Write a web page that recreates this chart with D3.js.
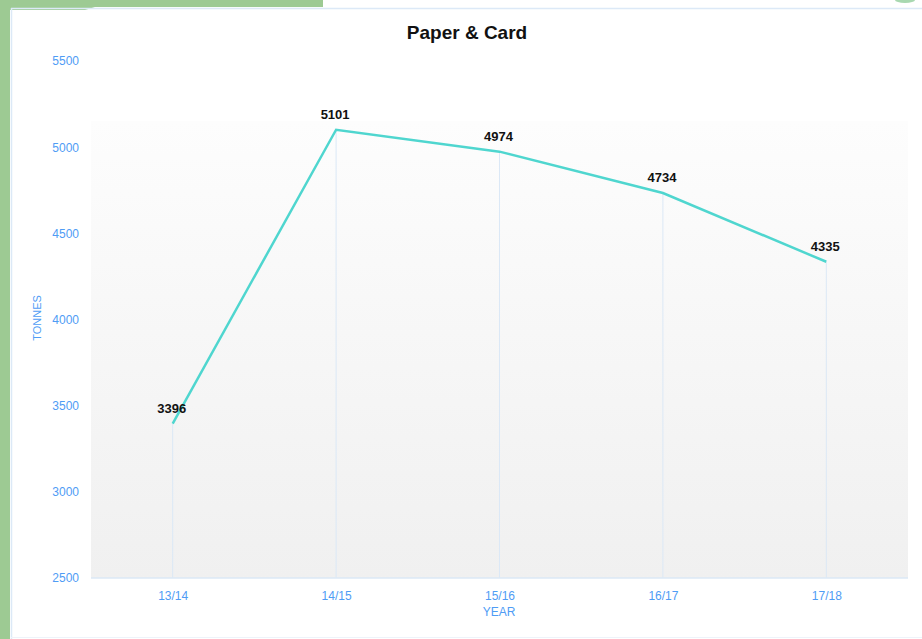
<!DOCTYPE html>
<html>
<head>
<meta charset="utf-8">
<script src="https://cdn.jsdelivr.net/npm/d3@7"></script>
<style>
  html, body { margin: 0; padding: 0; background: #fff; }
  svg { display: block; font-family: "Liberation Sans", Arial, Helvetica, sans-serif; }
</style>
</head>
<body>
<svg id="chart" width="922" height="639"></svg>
<script>
// data
const years = ["13/14", "14/15", "15/16", "16/17", "17/18"];
const tonnes = [3396, 5101, 4974, 4734, 4335];
const yTicks = [2500, 3000, 3500, 4000, 4500, 5000, 5500];

const svg = d3.select("#chart");
const W = 922, H = 639;

// page frame bits (green sidebar, top strip)
svg.append("rect").attr("x", 0).attr("y", 0).attr("width", W).attr("height", H).attr("fill", "#fff");
svg.append("rect").attr("x", 0).attr("y", 0).attr("width", 10).attr("height", H).attr("fill", "#9dca93");
svg.append("path").attr("d", "M0,0 H323 V7 H95 L85,10 H0 Z").attr("fill", "#9dca93");
svg.append("line").attr("x1", 11).attr("x2", W).attr("y1", 8.5).attr("y2", 8.5)
    .attr("stroke", "#dce9f7").attr("stroke-width", 1.5);
svg.append("line").attr("x1", 11.5).attr("x2", 11.5).attr("y1", 8).attr("y2", H)
    .attr("stroke", "#dce9f7").attr("stroke-width", 1.5);
svg.append("line").attr("x1", 11).attr("x2", W).attr("y1", 637.5).attr("y2", 637.5)
    .attr("stroke", "#eef3fa").attr("stroke-width", 1);
svg.append("ellipse").attr("cx", 905).attr("cy", 0).attr("rx", 10).attr("ry", 3).attr("fill", "#a8d8b0");

const margin = { top: 61, right: 14, bottom: 61, left: 91 };
const plotRight = 908;

const x = d3.scalePoint()
    .domain(years)
    .range([margin.left, plotRight])
    .padding(0.5);

const y = d3.scaleLinear()
    .domain([2500, 5500])
    .range([578, 61]);

// plot background gradient
const defs = svg.append("defs");
const grad = defs.append("linearGradient").attr("id", "bg").attr("x1", 0).attr("x2", 0).attr("y1", 0).attr("y2", 1);
grad.append("stop").attr("offset", "0%").attr("stop-color", "#fdfdfd");
grad.append("stop").attr("offset", "100%").attr("stop-color", "#f0f0f0");

svg.append("rect")
    .attr("x", margin.left).attr("y", 121)
    .attr("width", plotRight - margin.left).attr("height", 578 - 121)
    .attr("fill", "url(#bg)");

// title
svg.append("text")
    .attr("x", 467).attr("y", 39)
    .attr("text-anchor", "middle")
    .style("font-size", "19px").style("font-weight", "bold").attr("fill", "#111")
    .text("Paper & Card");

// drop lines from points
svg.append("g").selectAll("line")
    .data(years)
    .join("line")
    .attr("x1", d => x(d)).attr("x2", d => x(d))
    .attr("y1", (d, i) => y(tonnes[i])).attr("y2", y(2500))
    .attr("stroke", "#dbe8f6").attr("stroke-width", 1);

// x axis
const xAxis = svg.append("g")
    .attr("transform", `translate(0,${y(2500)})`)
    .call(d3.axisBottom(x).tickSize(0).tickPadding(13));
xAxis.select(".domain").attr("stroke", "#dbe8f6").attr("stroke-width", 1.5)
    .attr("d", `M${margin.left},0H${plotRight}`);
xAxis.selectAll("text").attr("fill", "#4f9cf5").style("font-size", "12px");

// y axis
const yAxis = svg.append("g")
    .attr("transform", "translate(79,0)")
    .call(d3.axisLeft(y).tickValues(yTicks).tickSize(0).tickPadding(0).tickFormat(d3.format("d")));
yAxis.select(".domain").remove();
yAxis.selectAll("text").attr("fill", "#4f9cf5").style("font-size", "12px");

// axis titles
svg.append("text")
    .attr("x", 499).attr("y", 616)
    .attr("text-anchor", "middle")
    .attr("fill", "#4f9cf5").style("font-size", "12px")
    .text("YEAR");

svg.append("text")
    .attr("transform", "translate(41,318) rotate(-90)")
    .attr("text-anchor", "middle")
    .attr("fill", "#4f9cf5").style("font-size", "11px")
    .text("TONNES");

// line
const line = d3.line()
    .x((d, i) => x(years[i]))
    .y(d => y(d));

svg.append("path")
    .datum(tonnes)
    .attr("d", line)
    .attr("fill", "none")
    .attr("stroke", "#4fd6cf")
    .attr("stroke-width", 2.5);

// value labels
svg.append("g").selectAll("text")
    .data(tonnes)
    .join("text")
    .attr("x", (d, i) => x(years[i]) - 1)
    .attr("y", d => y(d) - 11)
    .attr("text-anchor", "middle")
    .style("font-size", "13px").style("font-weight", "bold").attr("fill", "#111")
    .text(d => d);
</script>
</body>
</html>
